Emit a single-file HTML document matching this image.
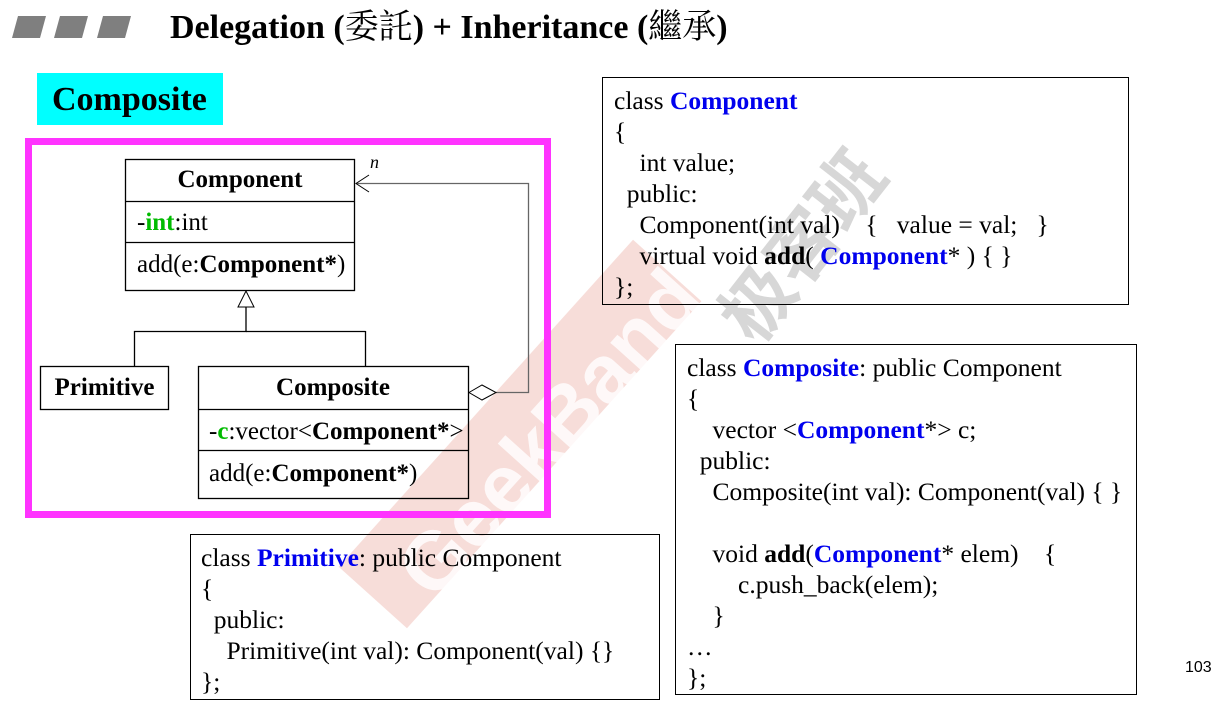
<!DOCTYPE html>
<html><head><meta charset="utf-8"><style>
body{margin:0;width:1230px;height:704px;background:#fff;position:relative;overflow:hidden;font-family:"Liberation Serif","Noto Serif CJK SC",serif;color:#000}
.a{position:absolute;white-space:pre}
.box{position:absolute;border:1px solid #000;box-sizing:border-box}
.code{font-size:25.5px;line-height:31px}
.b{color:#0000ee;font-weight:bold}
.k{font-weight:bold}
.g{color:#00bb00;font-weight:bold}
.uml{font-size:25px;line-height:28px}
</style></head><body>
<!-- watermark band -->
<div style="position:absolute;left:300px;top:388px;width:440px;height:92px;background:rgba(225,120,105,0.25);transform:rotate(-48deg);transform-origin:center;"></div>
<div class="a" style="left:330px;top:388px;width:440px;font-family:'Liberation Sans',sans-serif;font-weight:bold;font-size:82px;line-height:92px;color:rgba(255,255,255,0.8);transform:rotate(-48deg);transform-origin:center;text-align:center">GeekBand</div>
<div class="a" style="left:690px;top:190px;font-family:'Noto Sans CJK SC',sans-serif;font-weight:bold;font-size:72px;color:rgba(140,140,140,0.35);transform:rotate(-52deg);transform-origin:center">极客班</div>

<!-- header -->
<svg class="a" style="left:0;top:0" width="140" height="45"><g fill="#7f7f7f">
<polygon points="18,16 46,16 40,38 12,38"/><polygon points="60,16 88,16 82,38 54,38"/><polygon points="103,16 131,16 125,38 97,38"/></g></svg>
<div class="a" style="left:170px;top:8px;font-size:34px;line-height:40px;font-weight:bold;font-family:'Liberation Serif','Noto Serif CJK SC',serif">Delegation (<span style="font-weight:normal">委託</span>) + Inheritance (<span style="font-weight:normal">繼承</span>)</div>
<div class="a" style="left:37px;top:73px;width:186px;height:52px;background:#00ffff"></div>
<div class="a" style="left:52px;top:79px;font-size:34px;line-height:42px;font-weight:bold">Composite</div>

<!-- UML -->
<div class="box" style="left:25px;top:138px;width:526px;height:380px;border:7px solid #ff33ff"></div>
<svg class="a" style="left:0;top:0" width="600" height="520">
<g fill="none" stroke="#000" stroke-width="1.3">
<rect x="125.5" y="159.5" width="229" height="131"/><line x1="125" y1="201.5" x2="354" y2="201.5"/><line x1="125" y1="242.5" x2="354" y2="242.5"/>
<rect x="40.5" y="366.5" width="128" height="43"/>
<rect x="198.5" y="366.5" width="270" height="132"/><line x1="198" y1="409.5" x2="468" y2="409.5"/><line x1="198" y1="450.5" x2="468" y2="450.5"/>
<polygon points="246,291 238,307 254,307" fill="#fff" stroke-width="1"/>
<polyline points="246,307 246,331.5 134.5,331.5 134.5,366"/><line x1="246" y1="331.5" x2="365.5" y2="331.5"/><line x1="365.5" y1="331" x2="365.5" y2="366"/>
<polyline points="496,392.5 528.5,392.5 528.5,183.5 356,183.5" stroke="#666"/>
<polyline points="369,175 356,183.5 369,192" stroke-width="1"/>
<polygon points="469,392.5 482,385 496,392.5 482,400" fill="#fff" stroke-width="1"/>
</g></svg>
<div class="a" style="left:370px;top:152px;font-size:18px;font-style:italic">n</div>
<div class="a uml k" style="left:125px;top:166px;width:230px;text-align:center">Component</div>
<div class="a uml" style="left:137px;top:209px">-<span class="g">int</span>:int</div>
<div class="a uml" style="left:137px;top:251px">add(e:<span class="k">Component*</span>)</div>
<div class="a uml k" style="left:40px;top:374px;width:129px;text-align:center">Primitive</div>
<div class="a uml k" style="left:198px;top:374px;width:270px;text-align:center">Composite</div>
<div class="a uml" style="left:209px;top:418px">-<span class="g">c</span>:vector&lt;<span class="k">Component*</span>&gt;</div>
<div class="a uml" style="left:209px;top:460px">add(e:<span class="k">Component*</span>)</div>

<!-- code boxes -->
<div class="box" style="left:602px;top:77px;width:527px;height:228px"></div>
<div class="a code" style="left:614px;top:85px">class <span class="b">Component</span>
{
    int value;
  public:
    Component(int val)    {   value = val;   }
    virtual void <span class="k">add</span>( <span class="b">Component</span>* ) { }
};</div>

<div class="box" style="left:675px;top:344px;width:462px;height:351px"></div>
<div class="a code" style="left:687px;top:352px">class <span class="b">Composite</span>: public Component
{
    vector &lt;<span class="b">Component</span>*&gt; c;
  public:
    Composite(int val): Component(val) { }

    void <span class="k">add</span>(<span class="b">Component</span>* elem)    {
        c.push_back(elem);
    }
…
};</div>

<div class="box" style="left:190px;top:534px;width:470px;height:166px"></div>
<div class="a code" style="left:201px;top:542px">class <span class="b">Primitive</span>: public Component
{
  public:
    Primitive(int val): Component(val) {}
};</div>

<div class="a" style="left:1185px;top:659px;font-family:'Liberation Sans',sans-serif;font-size:16px">103</div>
</body></html>
